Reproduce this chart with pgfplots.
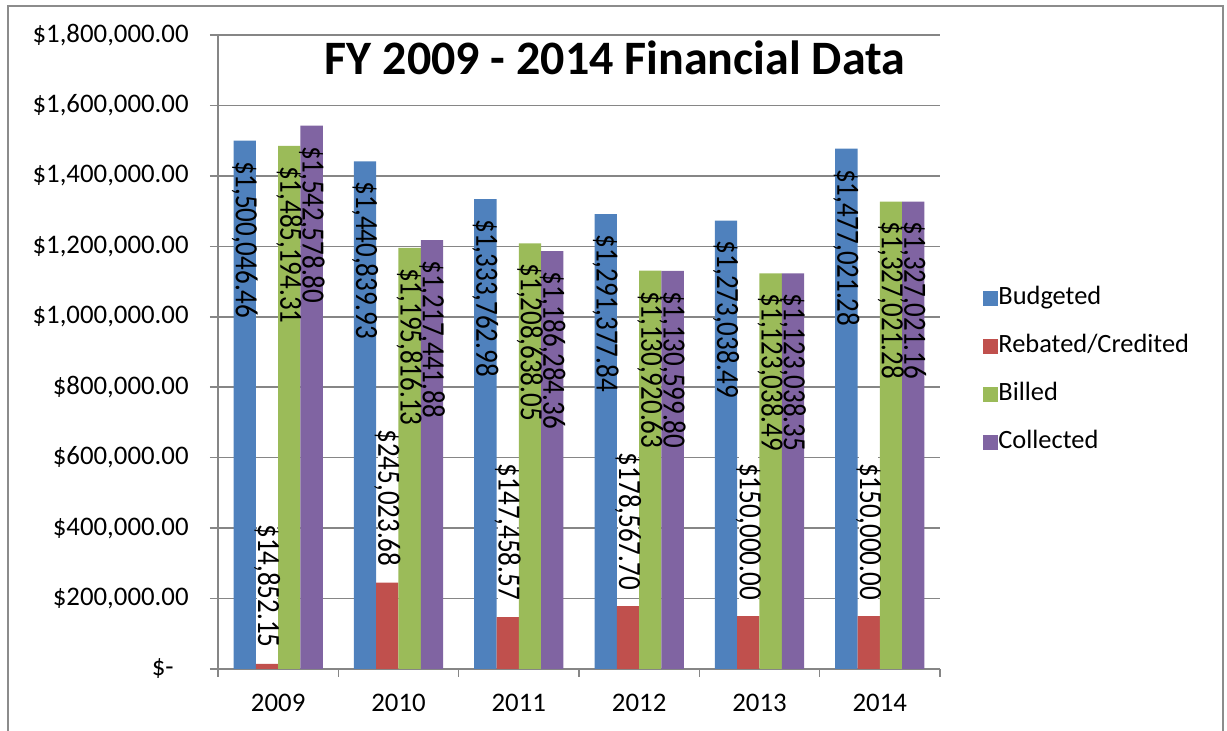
\documentclass[border=0pt]{standalone}
\usepackage{pgfplots}
\pgfplotsset{compat=1.18}
\usepackage{pgfplotstable}
\usepackage{fontspec}
\setmainfont{Carlito}
\definecolor{cB}{HTML}{4F81BD}
\definecolor{cR}{HTML}{C0504D}
\definecolor{cG}{HTML}{9BBB59}
\definecolor{cP}{HTML}{8064A2}
\definecolor{gridc}{HTML}{868686}
\definecolor{framec}{HTML}{8C8C8C}

\pgfplotstableread{
x bud budl reb rebl bil bill col coll
0 1500046.46 1,500,046.46 14852.15 14,852.15 1485194.31 1,485,194.31 1542578.80 1,542,578.80
1 1440839.93 1,440,839.93 245023.68 245,023.68 1195816.13 1,195,816.13 1217441.88 1,217,441.88
2 1333762.98 1,333,762.98 147458.57 147,458.57 1208638.05 1,208,638.05 1186284.36 1,186,284.36
3 1291377.84 1,291,377.84 178567.70 178,567.70 1130920.63 1,130,920.63 1130599.80 1,130,599.80
4 1273038.49 1,273,038.49 150000.00 150,000.00 1123038.49 1,123,038.49 1123038.35 1,123,038.35
5 1477021.28 1,477,021.28 150000.00 150,000.00 1327021.28 1,327,021.28 1327021.16 1,327,021.16
}\data

\pgfplotsset{
  sqlegend/.style={legend image code/.code={\path[##1,draw=none] (0pt,-3.75pt) rectangle (7.5pt,3.75pt);}},
  inlab/.style={nodes near coords={\$\pgfplotspointmeta}, point meta=explicit symbolic,
    every node near coord/.append style={yshift=-10pt, rotate=-90, yscale=1.2, anchor=west, inner sep=0pt, text=black, font=\fontsize{13.5}{16}\selectfont}},
  outlab/.style={nodes near coords={\$\pgfplotspointmeta}, point meta=explicit symbolic,
    every node near coord/.append style={yshift=5pt, rotate=-90, yscale=1.2, anchor=east, inner xsep=3pt, inner ysep=-1.4pt, fill=white, text=black, font=\fontsize{13.5}{16}\selectfont}},
}

\begin{document}
\begin{tikzpicture}
\path[use as bounding box] (0,0) rectangle (613.5pt,365.5pt);
\draw[framec, line width=1pt] (4pt,-2pt) -- (4pt,362.5pt) -- (611.5pt,362.5pt) -- (611.5pt,-2pt);
\begin{axis}[
  at={(109pt,31pt)}, anchor=south west,
  width=361pt, height=317pt, scale only axis,
  clip=false,
  xmin=-0.5, xmax=5.5, ymin=0, ymax=1800000,
  ybar=0pt, bar width=11.15pt,
  axis lines*=left,
  axis line style={gridc, line width=0.75pt},
  ytick={0,200000,400000,600000,800000,1000000,1200000,1400000,1600000,1800000},
  yticklabels={{\$-\kern7.5pt},{\$200,000.00},{\$400,000.00},{\$600,000.00},{\$800,000.00},{\$1,000,000.00},{\$1,200,000.00},{\$1,400,000.00},{\$1,600,000.00},{\$1,800,000.00}},
  scaled y ticks=false,
  ymajorgrids, major grid style={gridc, line width=0.75pt},
  tick align=outside, major tick length=4pt,
  ytick style={gridc, line width=0.75pt},
  xtick={0,1,2,3,4,5}, xticklabels={2009,2010,2011,2012,2013,2014},
  xtick style={draw=none},
  extra x ticks={-0.5,0.5,1.5,2.5,3.5,4.5,5.5},
  extra x tick labels={},
  extra x tick style={xtick style={draw=gridc, line width=0.75pt}},
  tick label style={font=\fontsize{13.4}{15}\selectfont},
  yticklabel style={inner sep=0pt, xshift=-10.5pt},
  xticklabel style={inner sep=0pt, anchor=base, yshift=-17.5pt},
  legend style={at={(axis description cs:1.0596,0.4708)}, anchor=west, draw=none, fill=none,
    inner sep=0pt, row sep=12pt, font=\fontsize{13.2}{15}\selectfont,
    nodes={inner sep=0pt, text height=9pt, text depth=3pt},
    /tikz/every even column/.append style={column sep=5.5pt}},
  legend cell align=left,
]
\addplot+[draw=none, fill=cB, sqlegend, inlab] table[x=x, y=bud, meta=budl] {\data};
\addplot+[draw=none, fill=cR, sqlegend, outlab] table[x=x, y=reb, meta=rebl] {\data};
\addplot+[draw=none, fill=cG, sqlegend, inlab] table[x=x, y=bil, meta=bill] {\data};
\addplot+[draw=none, fill=cP, sqlegend, inlab] table[x=x, y=col, meta=coll] {\data};
\legend{Budgeted, Rebated/Credited, Billed, Collected}
\end{axis}
\node[font=\fontsize{24}{29}\selectfont\bfseries] at (307.5pt,336.5pt) {FY 2009 - 2014 Financial Data};
\end{tikzpicture}
\end{document}
